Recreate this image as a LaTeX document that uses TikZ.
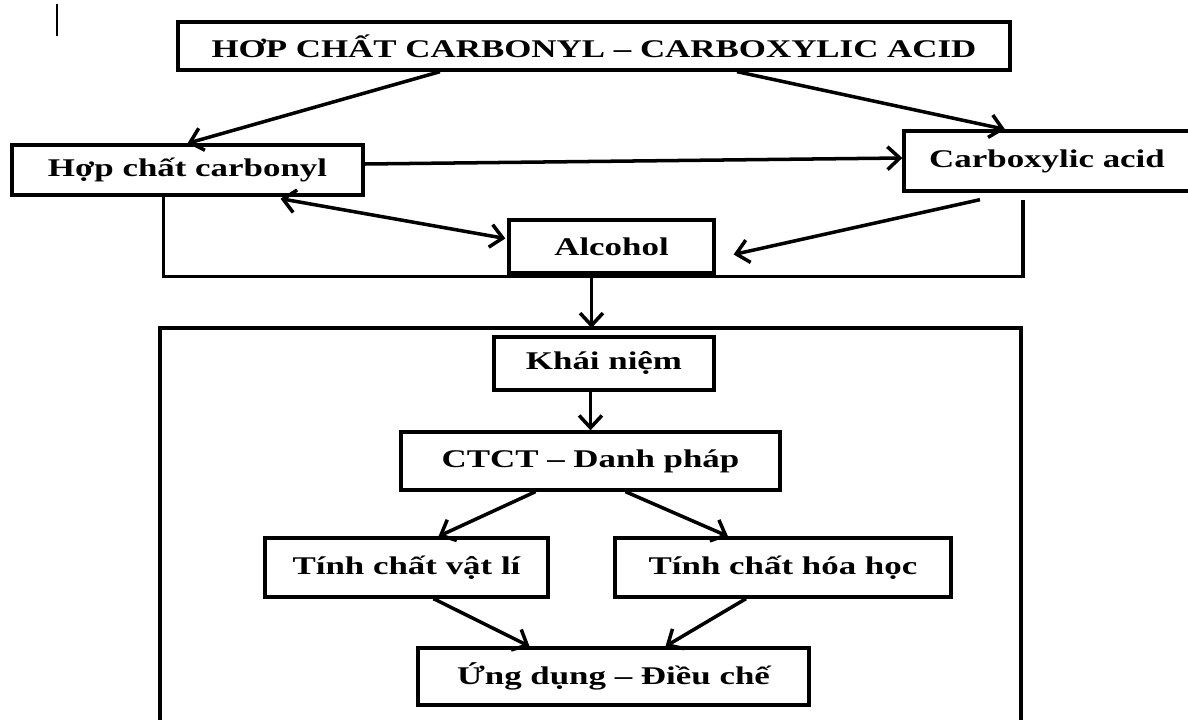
\documentclass[tikz,border=0pt]{standalone}
\usepackage{fontspec}
\setmainfont{Liberation Serif}[FakeStretch=1.37]
\usetikzlibrary{arrows, arrows.meta, positioning, calc}

\tikzset{
  box/.style={draw, line width=1.9pt, inner sep=0pt,
    font=\fontsize{14.5}{16}\selectfont\bfseries},
  tip/.tip={Straight Barb[length=7pt, width=13pt]},
  link/.style={-tip, line width=2pt},
  twolink/.style={tip-tip, line width=2pt},
}

\begin{document}
\begin{tikzpicture}[x=0.02cm, y=-0.02cm]
                \useasboundingbox (0,0) rectangle (1188,720);
                \draw[line width=1pt] (57,4) -- (57,36);

                \node[box, minimum width=16.64cm, minimum height=0.96cm] (title) at (594,46) {HƠP CHẤT CARBONYL – CARBOXYLIC ACID};
                \node[box, minimum width=7.02cm, minimum height=1cm] (carbonyl) at (187.5,170) {Hợp chất carbonyl};
                \node[box, minimum width=5.72cm, minimum height=1.2cm] (carboxylic) at (1047,161) {Carboxylic acid};
                \node[box, minimum width=4.1cm, minimum height=1.06cm] (alcohol) at (611.5,246.5) {Alcohol};

                \draw[link] ($(title.south)+(-154,0)$) -- (carbonyl.north);
                \draw[link] ($(title.south)+(143,0)$) -- ($(carboxylic.north)+(-42,0)$);
                \draw[link] ($(carbonyl.east)+(0,-6)$) -- ($(carboxylic.west)+(0,-3)$);
                \draw[twolink] ($(carbonyl.south)+(93,2)$) -- ($(alcohol.west)+(-2,-8)$);
                \draw[link] ($(carboxylic.south)+(-67,7)$) -- ($(alcohol.east)+(18,8)$);
                \draw[line width=1.9pt] ($(carbonyl.south)+(-24,0)$) |- ($(alcohol.south)+(0,2)$) -| ($(carboxylic.south)+(-24,7)$);

                \coordinate (fr-nw) at (160,328);
                \coordinate (fr-ne) at (1021,328);
                \coordinate (alc-out) at ($(alcohol.south)+(-20,0)$);
                \draw[line width=1.9pt] (fr-nw |- 0,725) -- (fr-nw) -- (fr-ne) -- (fr-ne |- 0,725);
                \draw[link] (alc-out) -- (alc-out |- fr-nw);

                \node[box, minimum width=4.4cm, minimum height=1.06cm] (khainiem) at (604,363.5) {Khái niệm};
                \node[box, minimum width=7.58cm, minimum height=1.16cm] (ctct) at (590.5,461) {CTCT – Danh pháp};
                \node[box, minimum width=5.66cm, minimum height=1.18cm] (vatli) at (406.5,567.5) {Tính chất vật lí};
                \node[box, minimum width=6.72cm, minimum height=1.18cm] (hoahoc) at (783,567.5) {Tính chất hóa học};
                \node[box, minimum width=7.82cm, minimum height=1.14cm] (ungdung) at (613.5,676.5) {Ứng dụng – Điều chế};

                \draw[link] (khainiem.south -| ctct.north) -- (ctct.north);
                \draw[link] ($(ctct.south)+(-55,0)$) -- ($(vatli.north)+(32,0)$);
                \draw[link] ($(ctct.south)+(35,0)$) -- ($(hoahoc.north)+(-55,0)$);
                \draw[link] ($(vatli.south)+(27,0)$) -- ($(ungdung.north)+(-84,0)$);
                \draw[link] ($(hoahoc.south)+(-37,0)$) -- ($(ungdung.north)+(52,0)$);
            \end{tikzpicture}
\end{document}
